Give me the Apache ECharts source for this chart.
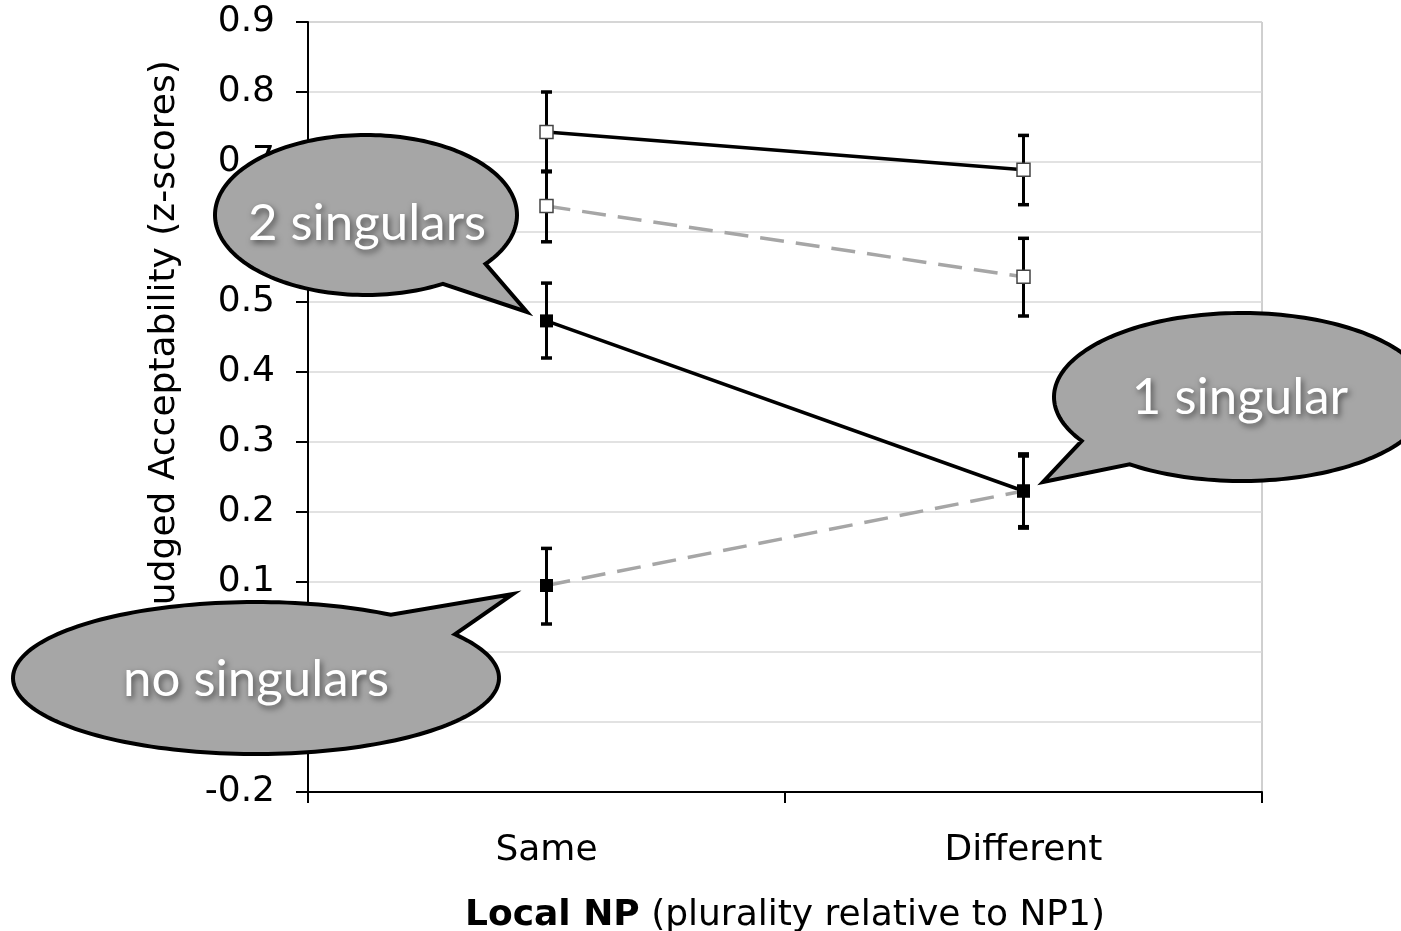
<!DOCTYPE html>
<html>
<head>
<meta charset="utf-8">
<script src="https://cdn.jsdelivr.net/npm/echarts@6/dist/echarts.min.js"></script>
<style>html,body{margin:0;padding:0;background:#fff}#c{width:1401px;height:931px}</style>
</head>
<body>
<div id="c"></div>
<script>
// ---- data ----
var categories = ['Same', 'Different'];
var seriesNames = ['s1', 's2', 's3', 's4'];
var s1Mean = [0.743, 0.689];
var s1Low  = [0.686, 0.639];
var s1High = [0.800, 0.738];
var s2Mean = [0.637, 0.536];
var s2Low  = [0.586, 0.480];
var s2High = [0.687, 0.591];
var s3Mean = [0.473, 0.230];
var s3Low  = [0.420, 0.177];
var s3High = [0.527, 0.283];
var s4Mean = [0.095, 0.230];
var s4Low  = [0.040, 0.179];
var s4High = [0.148, 0.280];
var yMin = -0.2, yMax = 0.9, yStep = 0.1;
var bubbleTexts = ['2 singulars', '1 singular', 'no singulars'];

var FONT = 'DejaVu Sans';
var chart = echarts.init(document.getElementById('c'));

function errSeries(low, high) {
  var d = low.map(function (l, i) { return [i, l, high[i]]; });
  return {
    type: 'custom', z: 2, silent: true,
    renderItem: function (params, api) {
      var x = api.coord([api.value(0), api.value(1)])[0];
      var yl = api.coord([api.value(0), api.value(1)])[1];
      var yh = api.coord([api.value(0), api.value(2)])[1];
      var w = 5.5;
      return { type: 'group', children: [
        { type: 'line', shape: { x1: x, y1: yl, x2: x, y2: yh }, style: { stroke: '#000', lineWidth: 3 } },
        { type: 'line', shape: { x1: x - w, y1: yl, x2: x + w, y2: yl }, style: { stroke: '#000', lineWidth: 3.5 } },
        { type: 'line', shape: { x1: x - w, y1: yh, x2: x + w, y2: yh }, style: { stroke: '#000', lineWidth: 3.5 } }
      ]};
    },
    encode: { x: 0, y: [1, 2] },
    data: d
  };
}

function lineSeries(name, mean, dashed, filled) {
  return {
    name: name, type: 'line', z: 3, data: mean,
    symbol: 'rect', symbolSize: 13,
    showSymbol: true,
    lineStyle: { color: dashed ? '#a6a6a6' : '#000', width: 3.5, type: dashed ? [24, 12] : 'solid' },
    itemStyle: filled ? { color: '#000', borderColor: '#000', borderWidth: 0 }
                      : { color: '#fff', borderColor: '#444', borderWidth: 1.5 },
    emphasis: { disabled: true },
    animation: false
  };
}

function bubble(cx, cy, rx, ry, a1, a2, tip, text, tx, ty) {
  var pts = [];
  var start = a2, end = a1 + 360, n = 180;
  for (var i = 0; i <= n; i++) {
    var a = (start + (end - start) * i / n) * Math.PI / 180;
    pts.push([cx + rx * Math.cos(a), cy + ry * Math.sin(a)]);
  }
  pts.push(tip);
  return [
    { type: 'polygon', z: 100, shape: { points: pts },
      style: { fill: '#a6a6a6', stroke: '#000', lineWidth: 4, lineJoin: 'miter' } },
    { type: 'text', z: 101, x: tx, y: ty,
      style: { text: text, fill: '#fff', font: '51px Lato', textAlign: 'center', textVerticalAlign: 'middle',
               textShadowColor: 'rgba(0,0,0,0.55)', textShadowBlur: 6, textShadowOffsetX: 2, textShadowOffsetY: 3 } }
  ];
}

var graphics = [
  { type: 'text', z: 50, x: 165, y: 338, rotation: Math.PI / 2,
    style: { text: 'Judged Acceptability (z-scores)', fill: '#000', font: '36px "' + FONT + '"',
             textAlign: 'center', textVerticalAlign: 'middle' } }
].concat(
  bubble(366, 215, 151, 80, 37.7, 59.4, [527, 312], bubbleTexts[0], 367, 224),
  bubble(1242, 397, 188, 84, 126.7, 148.5, [1043, 482], bubbleTexts[1], 1240, 398),
  bubble(256, 678, 243, 76, -56.3, -35.1, [513, 594], bubbleTexts[2], 256, 680)
);

chart.setOption({
  animation: false,
  backgroundColor: '#fff',
  grid: { left: 308, right: 139, top: 22, bottom: 139, outerBoundsMode: 'none', containLabel: false,
          show: true, borderColor: '#a0a0a0', borderWidth: 1, backgroundColor: 'transparent' },
  xAxis: {
    type: 'category', data: categories, boundaryGap: true,
    axisLine: { onZero: false, lineStyle: { color: '#000', width: 2 } },
    axisTick: { show: true, length: 11, lineStyle: { color: '#000', width: 2 } },
    axisLabel: { margin: 41, color: '#000', fontFamily: FONT, fontSize: 36 },
    name: '{b|Local NP} (plurality relative to NP1)',
    nameLocation: 'middle', nameGap: 106,
    nameTextStyle: { color: '#000', fontFamily: FONT, fontSize: 36,
      rich: { b: { fontWeight: 'bold', fontFamily: FONT, fontSize: 36, color: '#000' } } }
  },
  yAxis: {
    type: 'value', min: yMin, max: yMax, interval: yStep,
    axisLine: { show: true, lineStyle: { color: '#000', width: 2 } },
    axisTick: { show: true, length: 12, lineStyle: { color: '#000', width: 2 } },
    axisLabel: { margin: 33, color: '#000', fontFamily: FONT, fontSize: 36,
      formatter: function (v) { return (Math.round(v * 10) / 10).toFixed(1); } },
    splitLine: { lineStyle: { color: '#d9d9d9', width: 1.5 } }
  },
  series: [
    errSeries(s1Low, s1High), errSeries(s2Low, s2High), errSeries(s3Low, s3High), errSeries(s4Low, s4High),
    lineSeries(seriesNames[0], s1Mean, false, false),
    lineSeries(seriesNames[1], s2Mean, true, false),
    lineSeries(seriesNames[2], s3Mean, false, true),
    lineSeries(seriesNames[3], s4Mean, true, true)
  ],
  graphic: graphics
});
</script>
</body>
</html>
